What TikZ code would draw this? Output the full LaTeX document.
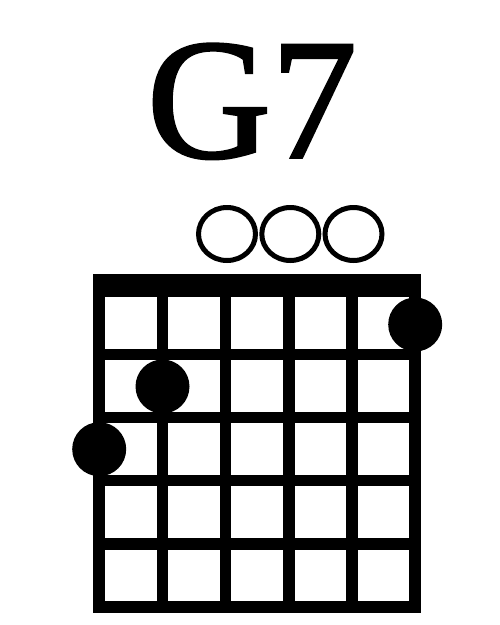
\documentclass[tikz,border=0pt]{standalone}
\usepackage{fontspec}
\setmainfont{Liberation Serif}
\newfontface\titlefont[FakeBold=1.5]{Liberation Serif}
\usetikzlibrary{shapes.geometric}
\begin{document}
\begin{tikzpicture}[x=1pt,y=-1pt,
  gridline/.style={line width=11.6pt},
  fingerdot/.style={circle,fill=black,inner sep=0pt,minimum size=54pt},
  openstring/.style={ellipse,draw=black,line width=5pt,inner sep=0pt,minimum width=57pt,minimum height=53pt},
  titletext/.style={font=\titlefont\fontsize{172}{180}\selectfont,inner sep=0pt,anchor=base}]
\useasboundingbox[fill=white] (0,0) rectangle (500,625);
% title
\node[titletext] (title) at (252,157.5) {G7};
% open strings
\node[openstring] (o3) at (227,234) {};
\node[openstring] (o4) at (290.3,234) {};
\node[openstring] (o5) at (353.5,234) {};
% nut
\fill (93.3,274) rectangle (421,296.7);
% strings
\foreach \i in {0,...,5}{
  \draw[gridline] (99.2+63.2*\i,274) -- (99.2+63.2*\i,612.3);
}
% frets
\foreach \j in {1,...,5}{
  \draw[gridline] (93.3,291.5+63.05*\j) -- (421,291.5+63.05*\j);
}
% finger dots
\node[fingerdot] (d6) at (415.2,324.5) {};
\node[fingerdot] (d2) at (162.5,386.5) {};
\node[fingerdot] (d1) at (99.2,449.2) {};
\end{tikzpicture}
\end{document}
